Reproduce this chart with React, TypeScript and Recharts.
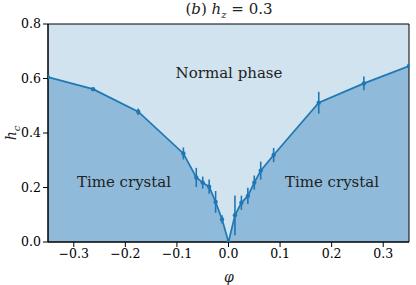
import React from 'react';
import {
  ComposedChart,
  Area,
  Line,
  XAxis,
  YAxis,
  CartesianGrid,
  ErrorBar,
  ReferenceArea,
} from 'recharts';

// phase boundary h_c(phi) with error bars
const phi = [
  -0.35, -0.2625, -0.175, -0.0875, -0.0625, -0.05, -0.0375, -0.025, -0.0125, 0,
  0.0125, 0.025, 0.0375, 0.05, 0.0625, 0.0875, 0.175, 0.2625, 0.35,
];
const hc = [
  0.605, 0.561, 0.478, 0.325, 0.237, 0.218, 0.203, 0.147, 0.083, 0.0,
  0.098, 0.144, 0.169, 0.218, 0.262, 0.319, 0.511, 0.582, 0.646,
];
const hcErr = [
  0.004, 0.006, 0.012, 0.022, 0.035, 0.022, 0.026, 0.04, 0.015, 0.0,
  0.073, 0.026, 0.03, 0.026, 0.033, 0.026, 0.04, 0.025, 0.005,
];
const xTicks = [-0.3, -0.2, -0.1, 0, 0.1, 0.2, 0.3];
const yTicks = [0, 0.2, 0.4, 0.6, 0.8];

const data = phi.map((p, i) => ({ phi: p, hc: hc[i], err: hcErr[i] }));

const BLUE = '#1f77b4';
const FONT = '"DejaVu Serif", serif';

const fmt = (v: number) => (v < 0 ? '\u2212' : '') + Math.abs(v).toFixed(1);

const tickStyle = { fontFamily: FONT, fontSize: 12.5, fill: '#000' };

const overlay = (left: number, top: number, size: number): React.CSSProperties => ({
  position: 'absolute',
  left,
  top,
  transform: 'translate(-50%, -50%)',
  fontFamily: FONT,
  fontSize: size,
  color: '#222',
  whiteSpace: 'nowrap',
  lineHeight: 1,
});

export default function App() {
  return (
    <div style={{ position: 'absolute', left: 0, top: 0, width: 416, height: 285, background: '#fff' }}>
      <ComposedChart
        width={416}
        height={285}
        data={data}
        margin={{ top: 24, right: 7, bottom: 1, left: 8 }}
      >
        <CartesianGrid fill="#d2e3f0" horizontal={false} vertical={false} />
        <XAxis
          dataKey="phi"
          type="number"
          domain={[-0.35, 0.35]}
          ticks={xTicks}
          tickFormatter={fmt}
          tick={tickStyle}
          tickSize={5}
          height={42}
          stroke="#000"
          allowDataOverflow
        />
        <YAxis
          type="number"
          domain={[0, 0.8]}
          ticks={yTicks}
          tickFormatter={fmt}
          tick={tickStyle}
          tickSize={5}
          width={40}
          stroke="#000"
          allowDataOverflow
        />
        <Area
          dataKey="hc"
          type="linear"
          fill="#8fbad9"
          fillOpacity={1}
          stroke="none"
          dot={false}
          activeDot={false}
          isAnimationActive={false}
        />
        <Line
          dataKey="hc"
          type="linear"
          stroke={BLUE}
          strokeWidth={1.7}
          dot={{ r: 2.2, fill: BLUE, stroke: 'none' }}
          activeDot={false}
          isAnimationActive={false}
        >
          <ErrorBar dataKey="err" direction="y" width={0} stroke={BLUE} strokeWidth={1.6} />
        </Line>
        <ReferenceArea
          x1={-0.35}
          x2={0.35}
          y1={0}
          y2={0.8}
          fill="none"
          stroke="#000"
          strokeWidth={1}
        />
      </ComposedChart>

      <div style={overlay(229, 11, 15)}>
        (<i>b</i>) <i>h</i>
        <sub style={{ fontSize: 10 }}><i>z</i></sub> = 0.3
      </div>
      <div style={overlay(229, 73, 15)}>Normal phase</div>
      <div style={overlay(124, 182, 15)}>Time crystal</div>
      <div style={overlay(332, 182, 15)}>Time crystal</div>
      <div style={{ ...overlay(13, 133, 14), transform: 'translate(-50%, -50%) rotate(-90deg)' }}>
        <i>h</i>
        <sub style={{ fontSize: 10 }}><i>c</i></sub>
      </div>
      <div style={overlay(229, 277, 14)}>
        <i>φ</i>
      </div>
    </div>
  );
}
